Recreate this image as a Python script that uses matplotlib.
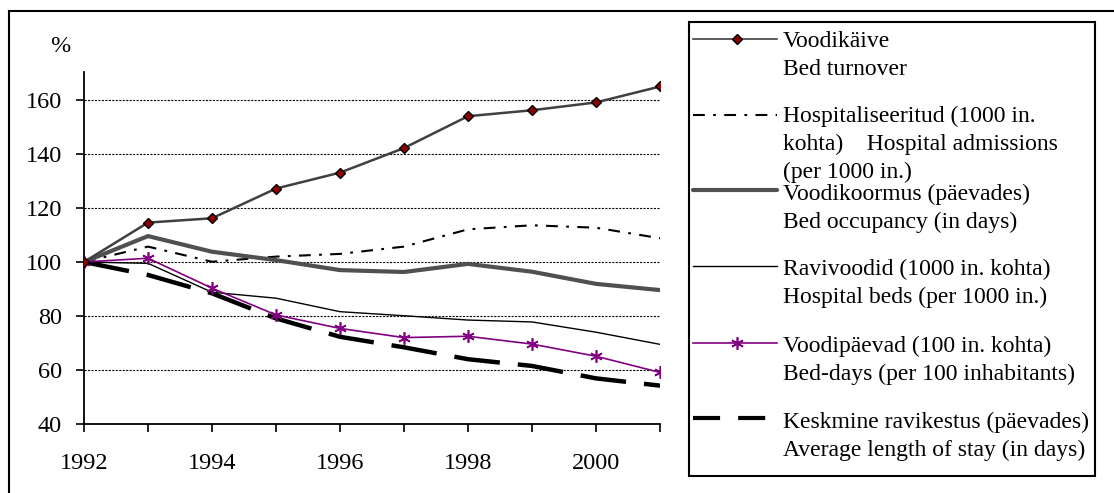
import matplotlib
matplotlib.use("Agg")
import matplotlib.pyplot as plt
from matplotlib.lines import Line2D
from matplotlib.patches import Rectangle

plt.rcParams['font.family'] = ['Liberation Serif', 'DejaVu Serif']
plt.rcParams['lines.scale_dashes'] = False

years = [1992, 1993, 1994, 1995, 1996, 1997, 1998, 1999, 2000, 2001]
bed_turnover = [100, 114.6, 116.2, 127.2, 133.1, 142.2, 154.0, 156.2, 159.1, 165.0]
admissions = [100, 105.7, 100.1, 102.0, 103.0, 105.7, 112.1, 113.6, 112.7, 108.8]
bed_occupancy = [100, 109.6, 103.8, 100.7, 97.0, 96.3, 99.3, 96.4, 91.9, 89.6]
hospital_beds = [100, 99.5, 88.8, 86.6, 81.6, 80.1, 78.5, 77.8, 74.0, 69.5]
bed_days = [100, 101.4, 90.3, 80.4, 75.4, 72.0, 72.5, 69.6, 65.1, 59.1]
avg_stay = [100, 95.2, 88.4, 79.1, 72.3, 68.4, 64.0, 61.5, 56.9, 54.2]

yticks = [40, 60, 80, 100, 120, 140, 160]
xtick_labels = ["1992", "", "1994", "", "1996", "", "1998", "", "2000", ""]

legend_labels = [
    "Voodikäive\nBed turnover",
    "Hospitaliseeritud (1000 in.\nkohta)    Hospital admissions\n(per 1000 in.)",
    "Voodikoormus (päevades)\nBed occupancy (in days)",
    "Ravivoodid (1000 in. kohta)\nHospital beds (per 1000 in.)",
    "Voodipäevad (100 in. kohta)\nBed-days (per 100 inhabitants)",
    "Keskmine ravikestus (päevades)\nAverage length of stay (in days)",
]

W, H = 1114, 493
fig = plt.figure(figsize=(W / 100, H / 100), dpi=100)

def fx(x):
    return x / W

def fy(y):
    return 1 - y / H

ax = fig.add_axes([fx(84), fy(424), fx(660) - fx(84), fy(72) - fy(424)])
ax.set_xlim(1992, 2001)
ax.set_ylim(40, 40 + (424 - 72) / 2.7)

# grid
for v in yticks[1:]:
    ax.axhline(v, color='black', lw=0.8, ls=(0, (1.5, 1.0)), zorder=1)

style_adm = dict(color='black', lw=1.5, ls=(0, (8.5, 6.0, 2.0, 6.0)))
style_occ = dict(color='#505050', lw=3.0, ls='-', solid_capstyle='round', solid_joinstyle='round')
style_beds = dict(color='black', lw=1.0, ls='-')
style_days = dict(color='#800080', lw=1.2, ls='-', marker=(6, 2, 0), markersize=9,
                  markeredgewidth=1.2, markeredgecolor='#800080')
style_stay = dict(color='black', lw=3.2, ls=(0, (33, 13)))
style_turn = dict(color='#404040', lw=1.8, ls='-', marker='D', markersize=4.8,
                  markerfacecolor='#8b0000', markeredgecolor='black', markeredgewidth=1.0)

ax.plot(years, admissions, zorder=3, **style_adm)
ax.plot(years, hospital_beds, zorder=3, **style_beds)
ax.plot(years, avg_stay, zorder=3, **style_stay)
ax.plot(years, bed_occupancy, zorder=4, **style_occ)
ax.plot(years, bed_days, zorder=5, **style_days)
ax.plot(years, bed_turnover, zorder=6, **style_turn)

for s in ['top', 'right']:
    ax.spines[s].set_visible(False)
for s in ['left', 'bottom']:
    ax.spines[s].set_linewidth(1.3)
    ax.spines[s].set_color('black')

ax.set_yticks(yticks)
ax.set_yticklabels([str(v) for v in yticks])
ax.set_xticks(years)
ax.set_xticklabels(xtick_labels)
ax.tick_params(axis='both', direction='out', length=6, width=1.2, labelsize=17.5, colors='black')
ax.tick_params(axis='x', pad=15)
ax.tick_params(axis='y', pad=10)

fig.text(fx(60), fy(47), "%", fontsize=17.5, ha='center', va='center')

# outer frame (top and left)
fig.add_artist(Line2D([fx(9), 1], [fy(11), fy(11)], color='black', lw=1.5))
fig.add_artist(Line2D([fx(9), fx(9)], [fy(11), 0], color='black', lw=1.5))

# legend
lax = fig.add_axes([fx(689), fy(476), fx(1095) - fx(689), fy(22) - fy(476)])
lax.set_xlim(689, 1095)
lax.set_ylim(476, 22)
lax.axis('off')
lax.add_patch(Rectangle((689, 22), 406, 454, fill=False, edgecolor='black', lw=1.5, clip_on=False))

handle_y = [39, 115, 190, 266, 343, 418]
text_y = [40, 115, 193, 268, 345, 421]
handle_styles = [
    dict(color='#404040', lw=1.2, ls='-'),
    style_adm,
    style_occ,
    style_beds,
    dict(color='#800080', lw=1.2, ls='-'),
    dict(color='black', lw=3.0, ls=(0, (19.5, 13))),
]
for i, (hy, ty, lab, st) in enumerate(zip(handle_y, text_y, legend_labels, handle_styles)):
    x1 = 766 if i == 5 else 777
    lax.plot([693, x1], [hy, hy], clip_on=False, **st)
    if i == 0:
        lax.plot([737], [hy], marker='D', markersize=4.8, markerfacecolor='#8b0000',
                 markeredgecolor='black', markeredgewidth=1.0, clip_on=False)
    if i == 4:
        lax.plot([737], [hy], marker=(6, 2, 0), markersize=9, markeredgewidth=1.2,
                 color='#800080', clip_on=False)
    for k, line in enumerate(lab.split("\n")):
        lax.text(783, ty + 28 * k + 7.5, line, fontsize=17, ha='left', va='baseline')

fig.savefig("out.png", dpi=100)
